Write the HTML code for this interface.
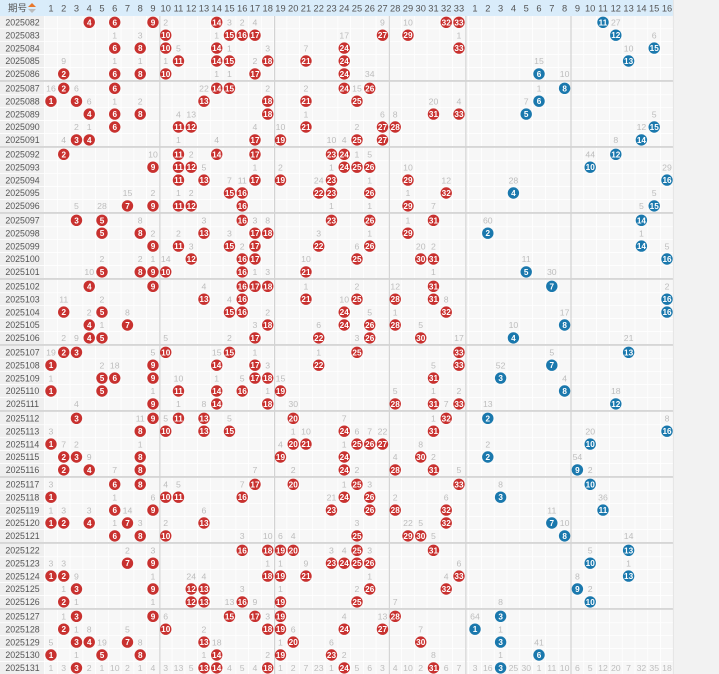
<!DOCTYPE html>
<html><head><meta charset="utf-8"><style>
html,body{margin:0;padding:0;background:#f2f2f2;width:719px;height:674px;overflow:hidden}
svg{display:block}
text{font-family:"Liberation Sans","Noto Sans CJK SC",sans-serif}
</style></head><body>
<svg id="chart" width="719" height="674" xmlns="http://www.w3.org/2000/svg"></svg>
<script>
const periods=["2025082","2025083","2025084","2025085","2025086","2025087","2025088","2025089","2025090","2025091","2025092","2025093","2025094","2025095","2025096","2025097","2025098","2025099","2025100","2025101","2025102","2025103","2025104","2025105","2025106","2025107","2025108","2025109","2025110","2025111","2025112","2025113","2025114","2025115","2025116","2025117","2025118","2025119","2025120","2025121","2025122","2025123","2025124","2025125","2025126","2025127","2025128","2025129","2025130","2025131"];
const redBalls=[[4,6,9,14,32,33],[10,15,16,17,27,29],[6,8,10,14,24,33],[11,14,15,18,21,24],[2,6,8,10,17,24],[2,6,14,15,24,26],[1,3,13,18,21,25],[4,6,8,18,31,33],[6,11,12,21,27,28],[3,4,17,19,25,27],[2,11,14,17,23,24],[9,11,12,24,25,26],[11,13,17,19,23,29],[15,16,22,23,26,32],[7,9,11,12,16,29],[3,5,16,23,26,31],[5,8,13,17,18,29],[9,11,15,17,22,26],[12,16,17,25,30,31],[5,8,9,10,16,21],[4,9,16,17,18,31],[13,16,21,25,28,31],[2,5,15,16,24,32],[4,7,18,24,26,28],[4,5,17,22,26,30],[2,3,10,15,25,33],[1,9,14,17,22,33],[5,6,9,17,18,31],[1,5,11,14,16,19],[9,14,18,28,31,33],[3,9,11,13,20,32],[8,10,13,15,24,31],[1,20,21,25,26,27],[2,3,8,19,24,30],[2,4,8,24,28,31],[6,8,17,20,25,33],[1,10,11,16,24,26],[6,9,23,26,28,32],[1,2,4,7,13,32],[6,8,10,25,29,30],[16,18,19,20,25,31],[7,9,23,24,25,26],[1,2,18,19,21,33],[3,9,12,13,26,32],[2,12,13,16,19,25],[3,9,15,17,19,28],[2,10,18,19,24,27],[3,4,7,13,20,30],[1,5,8,14,19,23],[3,13,14,18,24,31]];
const blueBalls=[11,12,15,13,6,8,6,5,15,14,12,10,16,4,15,14,2,14,16,5,7,16,16,8,4,13,7,3,8,12,2,16,10,2,9,10,3,11,7,8,13,10,13,9,10,3,1,3,6,3];
// missing counts shown: [column, value]
const redMiss=[
[[10,2],[15,3],[16,2],[17,4],[27,9],[29,10]],
[[6,1],[8,3],[14,1],[24,17],[33,1]],
[[11,5],[15,1],[18,3],[21,7]],
[[2,9],[6,1],[8,1],[10,1],[17,2]],
[[14,1],[15,1],[26,34]],
[[1,16],[3,6],[13,22],[18,2],[21,2],[25,15]],
[[4,6],[6,1],[8,2],[31,20],[33,4]],
[[11,4],[12,13],[21,1],[27,6],[28,8]],
[[3,2],[4,1],[17,4],[19,10],[25,2]],
[[2,4],[11,1],[14,4],[23,10],[24,4]],
[[9,10],[12,2],[25,1],[26,5]],
[[13,5],[17,1],[19,2],[23,1],[29,10]],
[[15,7],[16,11],[22,24],[26,1],[32,12]],
[[7,15],[9,2],[11,1],[12,2],[29,1]],
[[3,5],[5,28],[23,1],[26,1],[31,7]],
[[8,8],[13,3],[17,3],[18,8],[29,1]],
[[9,2],[11,2],[15,3],[22,3],[26,1]],
[[12,3],[16,2],[25,6],[30,20],[31,2]],
[[5,2],[8,2],[9,1],[10,14],[21,10]],
[[4,10],[17,1],[18,3],[31,1]],
[[13,4],[21,1],[25,2],[28,12]],
[[2,11],[5,2],[15,4],[24,10],[32,8]],
[[4,2],[7,8],[18,2],[26,5],[28,1]],
[[5,1],[17,3],[22,6],[30,5]],
[[2,2],[3,9],[10,5],[15,2],[25,3],[33,17]],
[[1,19],[9,5],[14,15],[17,1],[22,1]],
[[5,2],[6,18],[18,3],[31,5]],
[[1,1],[11,10],[14,1],[16,5],[19,15]],
[[9,1],[18,1],[28,5],[31,1],[33,2]],
[[3,4],[11,1],[13,8],[20,30],[32,7]],
[[8,11],[10,5],[15,5],[24,7],[31,1]],
[[1,3],[20,1],[21,10],[25,6],[26,7],[27,22]],
[[2,7],[3,2],[8,1],[19,4],[24,1],[30,8]],
[[4,9],[28,4],[31,2]],
[[6,7],[17,7],[20,2],[25,2],[33,5]],
[[1,3],[10,4],[11,5],[16,7],[24,1],[26,3]],
[[6,1],[9,6],[23,21],[28,2],[32,6]],
[[1,1],[2,3],[4,3],[7,14],[13,6]],
[[6,1],[8,3],[10,2],[25,3],[29,22],[30,5]],
[[16,3],[18,10],[19,6],[20,4],[31,5]],
[[7,2],[9,3],[23,3],[24,4],[26,3]],
[[1,3],[2,3],[18,1],[19,1],[21,9],[33,6]],
[[3,9],[9,1],[12,24],[13,4],[26,1],[32,4]],
[[2,1],[16,3],[19,1],[25,2]],
[[3,1],[9,1],[15,13],[17,9],[28,7]],
[[2,1],[10,6],[18,3],[24,4],[27,13]],
[[3,1],[4,8],[7,5],[13,2],[20,6],[30,7]],
[[1,5],[5,19],[8,8],[14,18],[19,1],[23,6]],
[[3,1],[13,1],[18,2],[24,2],[31,8]],
[[1,1],[2,3],[4,2],[5,1],[6,10],[7,2],[8,1],[9,4],[10,3],[11,13],[12,5],[15,4],[16,5],[17,4],[19,1],[20,2],[21,7],[22,23],[23,1],[25,5],[26,6],[27,3],[28,4],[29,10],[30,2],[32,6],[33,7]]
];
const blueMiss=[
[[12,27]],[[15,6]],[[13,10]],[[6,15]],[[8,10]],[[6,1]],[[5,7]],[[15,5]],[[14,12]],[[12,8]],
[[10,44]],[[16,29]],[[4,28]],[[15,5]],[[14,5]],[[2,60]],[[14,1]],[[16,5]],[[5,11]],[[7,30]],
[[16,2]],[],[[8,17]],[[4,10]],[[13,21]],[[7,5]],[[3,52]],[[8,4]],[[12,18]],[[2,13]],
[[16,8]],[[10,20]],[[2,2]],[[9,54]],[[10,2]],[[3,8]],[[11,36]],[[7,11]],[[8,10]],[[13,14]],
[[10,5]],[[13,1]],[[9,8]],[[10,2]],[[3,8]],[[1,64]],[[3,1]],[[6,41]],[[3,1]],
[[1,3],[2,16],[4,25],[5,30],[6,1],[7,11],[8,10],[9,6],[10,5],[11,12],[12,20],[13,7],[14,32],[15,35],[16,18]]
];
const NS="http://www.w3.org/2000/svg";
const svg=document.getElementById('chart');
const RX0=44.6,RW=12.75,BX0=468.6,BW=12.8,HEAD=16,ROWH=12.9,GRP=66;
function rx(c){return RX0+(c-1)*RW+RW/2;}
function bx(c){return BX0+(c-1)*BW+BW/2;}
function ry(i){return 22.3+Math.floor(i/5)*GRP+(i%5)*ROWH;}
function el(tag,attrs,parent){const e=document.createElementNS(NS,tag);for(const k in attrs)e.setAttribute(k,attrs[k]);(parent||svg).appendChild(e);return e;}
const END=BX0+16*BW;
el('rect',{x:0,y:0,width:END,height:674,fill:'#f7f7f7'});
el('rect',{x:0,y:HEAD,width:RX0,height:674-HEAD,fill:'#efefef'});
const head=el('g',{});


el('rect',{x:0,y:0,width:END,height:HEAD,fill:'#d9ecfa'},head);
const t0=el('text',{x:8,y:11.5,'font-size':'9.5',fill:'#555'},head);t0.textContent='期号';


el('path',{d:'M32 3 L36 7 L28 7 Z',fill:'#e8782c'},head);
el('path',{d:'M28 9 L36 9 L32 13 Z',fill:'#bbb'},head);
for(let c=1;c<=33;c++){const t=el('text',{x:rx(c),y:11.5,'font-size':'9.3',fill:'#555','text-anchor':'middle'},head);t.textContent=c;

}
for(let c=1;c<=16;c++){const t=el('text',{x:bx(c),y:11.5,'font-size':'9.3',fill:'#555','text-anchor':'middle'},head);t.textContent=c;

}
for(let c=0;c<=33;c++)el('line',{x1:RX0+c*RW,y1:HEAD,x2:RX0+c*RW,y2:674,stroke:'#fff','stroke-width':0.8});
for(let c=0;c<=16;c++)el('line',{x1:BX0+c*BW,y1:HEAD,x2:BX0+c*BW,y2:674,stroke:'#fff','stroke-width':0.8});
periods.forEach((p,i)=>{
 const y=ry(i);
 el('line',{x1:0,y1:y+ROWH/2,x2:END,y2:y+ROWH/2,stroke:'#fff','stroke-width':0.8});
 if(i%5===0&&i>0)el('line',{x1:0,y1:y-7.4,x2:END,y2:y-7.4,stroke:'#d0d0d0','stroke-width':1.6});
});
[9,18,27,33].forEach(c=>el('line',{x1:RX0+c*RW+0.5,y1:HEAD,x2:RX0+c*RW+0.5,y2:674,stroke:'#d3d3d3','stroke-width':1.2}));
el('line',{x1:BX0+8*BW,y1:HEAD,x2:BX0+8*BW,y2:674,stroke:'#d3d3d3','stroke-width':1.2});
el('line',{x1:END,y1:0,x2:END,y2:674,stroke:'#e4e4e4','stroke-width':1});
periods.forEach((p,i)=>{
 const y=ry(i);
 const pt=el('text',{x:22.5,y:y+3.2,'font-size':'8.8',fill:'#555','text-anchor':'middle'});pt.textContent=p;
 
 
 redMiss[i].forEach(([c,v])=>{const t=el('text',{x:rx(c),y:y+3.2,'font-size':'8.7',fill:'#bdbdbd','text-anchor':'middle'});t.textContent=v;
  
  });
 blueMiss[i].forEach(([c,v])=>{const t=el('text',{x:bx(c),y:y+3.2,'font-size':'8.7',fill:'#bdbdbd','text-anchor':'middle'});t.textContent=v;
  
  });
 redBalls[i].forEach(c=>{const g=el('g',{});
  
  
  el('circle',{cx:rx(c),cy:y,r:5.7,fill:'#c8312f'},g);
  const t=el('text',{x:rx(c),y:y+3,'font-size':'8.2','font-weight':'bold',fill:'#fff','text-anchor':'middle'},g);t.textContent=c;});
 const b=blueBalls[i];const g=el('g',{});
 
 
 el('circle',{cx:bx(b),cy:y,r:5.7,fill:'#1a78ad'},g);
 const t=el('text',{x:bx(b),y:y+3,'font-size':'8.2','font-weight':'bold',fill:'#fff','text-anchor':'middle'},g);t.textContent=b;
});
</script>
</body></html>
